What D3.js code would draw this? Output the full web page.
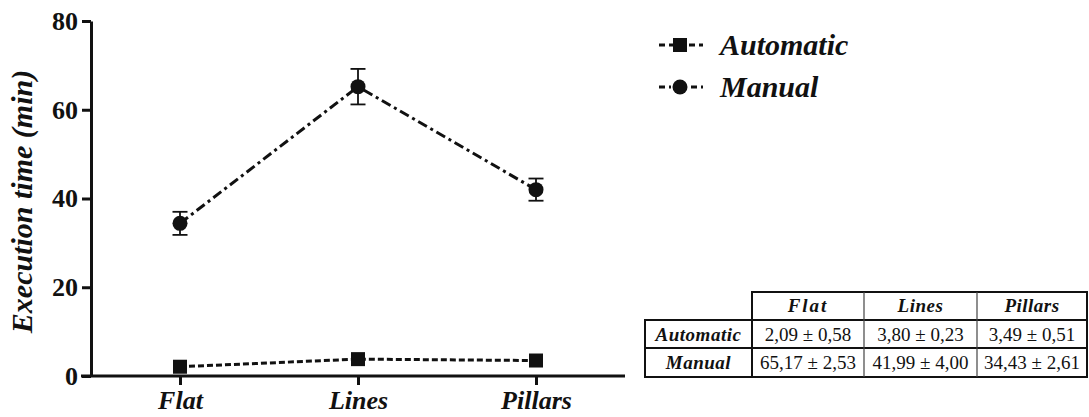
<!DOCTYPE html>
<html lang="en">
<head>
<meta charset="UTF-8">
<title>Execution time</title>
<style>
  body { margin: 0; background: #fff; }
</style>
</head>
<body>
<svg id="svgId"></svg>
<script src="https://cdnjs.cloudflare.com/ajax/libs/d3/7.8.5/d3.min.js"></script>
<script>

    // Data
    const categories = ['Flat', 'Lines', 'Pillars'];
    const automatic = [2.09, 3.80, 3.49];
    const automaticErr = [0.58, 0.23, 0.51];
    const manual = [34.4, 65.2, 42.0];
    const manualErr = [2.6, 4.0, 2.5];
    const yTicks = [0, 20, 40, 60, 80];

    // Table shown at the lower right
    const tableCols = ['Flat', 'Lines', 'Pillars'];
    const tableRows = ['Automatic', 'Manual'];
    const tableCells = [
        ['2,09 \u00b1 0,58', '3,80 \u00b1 0,23', '3,49 \u00b1 0,51'],
        ['65,17 \u00b1 2,53', '41,99 \u00b1 4,00', '34,43 \u00b1 2,61']
    ];

    const svgWidth = 1089, svgHeight = 417;
    const serif = "'Liberation Serif', 'Times New Roman', serif";

    const svg = d3.select('#svgId')
        .attr('width', svgWidth)
        .attr('height', svgHeight)
        .style('font-family', serif);

    // plot area
    const x0 = 91, x1 = 625, yTop = 21, yBot = 376;
    const xScale = d3.scalePoint().domain(categories).range([x0, x1]).padding(0.5);
    const yScale = d3.scaleLinear().domain([0, 80]).range([yBot, yTop]);

    // y axis
    const yAxis = svg.append('g')
        .attr('transform', `translate(${x0},0)`)
        .call(d3.axisLeft(yScale).tickValues(yTicks).tickSize(9).tickPadding(4).tickSizeOuter(0));
    yAxis.select('.domain').attr('stroke', '#111').attr('stroke-width', 3);
    yAxis.selectAll('.tick line').attr('stroke', '#111').attr('stroke-width', 3);
    yAxis.selectAll('.tick text')
        .attr('fill', '#111')
        .style('font-family', serif)
        .style('font-weight', 'bold')
        .style('font-size', '26px');

    // x axis
    const xAxis = svg.append('g')
        .attr('transform', `translate(0,${yBot})`)
        .call(d3.axisBottom(xScale).tickSize(9).tickPadding(6).tickSizeOuter(0));
    xAxis.select('.domain').attr('d', `M${x0 - 10},0H${x1}`).attr('stroke', '#111').attr('stroke-width', 3);
    xAxis.selectAll('.tick line').attr('stroke', '#111').attr('stroke-width', 3);
    xAxis.selectAll('.tick text')
        .attr('fill', '#111')
        .style('font-family', serif)
        .style('font-weight', 'bold')
        .style('font-style', 'italic')
        .style('font-size', '26px');

    // y axis title
    svg.append('text')
        .attr('transform', `translate(32, ${(70 + 333) / 2}) rotate(-90)`)
        .attr('text-anchor', 'middle')
        .attr('fill', '#111')
        .style('font-weight', 'bold')
        .style('font-style', 'italic')
        .style('font-size', '30px')
        .text('Execution time (min)');

    const line = d3.line().x(d => xScale(d[0])).y(d => yScale(d[1]));

    // Manual series (dash-dot line, circles, error bars)
    const manualPts = categories.map((c, i) => [c, manual[i], manualErr[i]]);
    svg.append('path')
        .datum(manualPts)
        .attr('fill', 'none')
        .attr('stroke', '#111')
        .attr('stroke-width', 3)
        .attr('stroke-dasharray', '10,4,3,4')
        .attr('d', line);

    const errG = svg.append('g').attr('stroke', '#111').attr('stroke-width', 1.8);
    manualPts.forEach(d => {
        const cx = xScale(d[0]);
        errG.append('line').attr('x1', cx).attr('x2', cx)
            .attr('y1', yScale(d[1] + d[2])).attr('y2', yScale(d[1] - d[2]));
        [d[1] + d[2], d[1] - d[2]].forEach(v => {
            errG.append('line').attr('x1', cx - 7.5).attr('x2', cx + 7.5)
                .attr('y1', yScale(v)).attr('y2', yScale(v));
        });
    });

    svg.append('g').selectAll('circle')
        .data(manualPts).enter()
        .append('circle')
        .attr('cx', d => xScale(d[0]))
        .attr('cy', d => yScale(d[1]))
        .attr('r', 7.5)
        .attr('fill', '#111');

    // Automatic series (short dashes, squares)
    const autoPts = categories.map((c, i) => [c, automatic[i], automaticErr[i]]);
    svg.append('path')
        .datum(autoPts)
        .attr('fill', 'none')
        .attr('stroke', '#111')
        .attr('stroke-width', 3)
        .attr('stroke-dasharray', '6,3')
        .attr('d', line);

    svg.append('g').selectAll('rect')
        .data(autoPts).enter()
        .append('rect')
        .attr('x', d => xScale(d[0]) - 7)
        .attr('y', d => yScale(d[1]) - 7)
        .attr('width', 14)
        .attr('height', 14)
        .attr('fill', '#111');

    // Legend
    const legend = svg.append('g');
    const legendItems = [
        {name: 'Automatic', shape: 'square', dash: '6,4', y: 45},
        {name: 'Manual', shape: 'circle', dash: '6,4,2,4', y: 87}
    ];
    legendItems.forEach(it => {
        legend.append('line')
            .attr('x1', 659).attr('x2', 703)
            .attr('y1', it.y).attr('y2', it.y)
            .attr('stroke', '#111').attr('stroke-width', 3)
            .attr('stroke-dasharray', it.dash);
        if (it.shape === 'square') {
            legend.append('rect').attr('x', 673).attr('y', it.y - 7)
                .attr('width', 14).attr('height', 14).attr('fill', '#111');
        } else {
            legend.append('circle').attr('cx', 680).attr('cy', it.y).attr('r', 7.5).attr('fill', '#111');
        }
        legend.append('text')
            .attr('x', 720).attr('y', it.y + 10)
            .attr('fill', '#111')
            .style('font-weight', 'bold')
            .style('font-style', 'italic')
            .style('font-size', '30px')
            .text(it.name);
    });

    // Table
    const tab = svg.append('g');
    const colX = [645, 752, 864, 977, 1087];
    const rowY = [292, 320, 348, 377];

    // header cells (no top-left cell)
    tab.append('rect')
        .attr('x', colX[1]).attr('y', rowY[0])
        .attr('width', colX[4] - colX[1]).attr('height', rowY[1] - rowY[0])
        .attr('fill', 'none').attr('stroke', '#111').attr('stroke-width', 2);
    // body
    tab.append('rect')
        .attr('x', colX[0]).attr('y', rowY[1])
        .attr('width', colX[4] - colX[0]).attr('height', rowY[3] - rowY[1])
        .attr('fill', 'none').attr('stroke', '#111').attr('stroke-width', 2);
    tab.append('line')
        .attr('x1', colX[0]).attr('x2', colX[4])
        .attr('y1', rowY[2]).attr('y2', rowY[2])
        .attr('stroke', '#111').attr('stroke-width', 2);
    tab.append('line')
        .attr('x1', colX[1]).attr('x2', colX[1])
        .attr('y1', rowY[0]).attr('y2', rowY[3])
        .attr('stroke', '#111').attr('stroke-width', 2);
    [2, 3].forEach(k => {
        tab.append('line')
            .attr('x1', colX[k]).attr('x2', colX[k])
            .attr('y1', rowY[0]).attr('y2', rowY[3])
            .attr('stroke', '#444').attr('stroke-width', 1.2);
    });

    tableCols.forEach((c, j) => {
        tab.append('text')
            .attr('x', (colX[j + 1] + colX[j + 2]) / 2)
            .attr('y', rowY[0] + 20)
            .attr('text-anchor', 'middle')
            .attr('fill', '#111')
            .style('font-weight', 'bold')
            .style('font-style', 'italic')
            .style('font-size', '19px')
            .style('letter-spacing', c === 'Flat' ? '2px' : '0.5px')
            .text(c);
    });
    tableRows.forEach((r, i) => {
        tab.append('text')
            .attr('x', (colX[0] + colX[1]) / 2)
            .attr('y', rowY[i + 1] + 21)
            .attr('text-anchor', 'middle')
            .attr('fill', '#111')
            .style('font-weight', 'bold')
            .style('font-style', 'italic')
            .style('font-size', '19px')
            .style('letter-spacing', '0.5px')
            .text(r);
        tableCells[i].forEach((v, j) => {
            tab.append('text')
                .attr('x', (colX[j + 1] + colX[j + 2]) / 2)
                .attr('y', rowY[i + 1] + 21)
                .attr('text-anchor', 'middle')
                .attr('fill', '#111')
                .style('font-size', '19px')
                .text(v);
        });
    });

</script>
</body>
</html>
